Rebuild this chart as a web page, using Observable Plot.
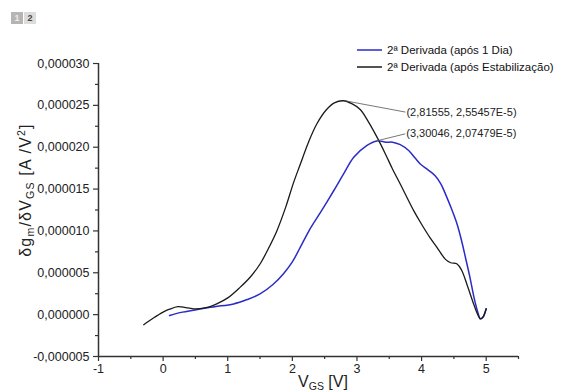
<!DOCTYPE html>
<html><head><meta charset="utf-8">
<script src="https://cdn.jsdelivr.net/npm/d3@7"></script>
<script src="https://cdn.jsdelivr.net/npm/@observablehq/plot@0.6"></script>
<style>
body{margin:0;background:#fff;font-family:"Liberation Sans",Arial,sans-serif;}
#wrap{position:relative;width:565px;height:392px;}
.layer{position:absolute;top:12px;width:12px;height:12px;font:bold 9px "Liberation Sans",Arial,sans-serif;text-align:center;line-height:12px;}
svg{display:block;}
</style></head><body>
<div id="wrap">
<div class="layer" style="left:11px;background:#b5b5b5;color:#ececec;">1</div>
<div class="layer" style="left:24px;background:#dcdcdc;color:#444;">2</div>
</div>
<script>
// Series names
const seriesNames = ["2ª Derivada (após 1 Dia)", "2ª Derivada (após Estabilização)"];
const seriesColors = ["#2b2bc8", "#1a1a1a"];

// Blue series: after 1 day (y in units of 1e-6 A/V²)
const blueX = [0.10, 0.30, 0.57, 0.80, 1.09, 1.30, 1.50, 1.70, 1.86, 2.00, 2.12, 2.27, 2.45, 2.64, 2.80, 2.95, 3.15, 3.31, 3.45, 3.55, 3.67, 3.80, 3.90, 3.98, 4.10, 4.21, 4.30, 4.37, 4.46, 4.55, 4.62, 4.68, 4.75, 4.81, 4.87, 4.91, 4.95, 5.00];
const blueY = [-0.1, 0.3, 0.68, 0.95, 1.28, 1.8, 2.47, 3.6, 4.86, 6.3, 8.0, 10.2, 12.4, 14.8, 16.9, 18.8, 20.2, 20.75, 20.6, 20.6, 20.3, 19.6, 18.7, 18.0, 17.3, 16.6, 15.6, 14.4, 12.7, 10.8, 8.8, 6.8, 4.4, 2.1, 0.3, -0.5, -0.3, 0.7];

// Black series: after stabilization (y in units of 1e-6 A/V²)
const blackX = [-0.30, -0.15, 0.00, 0.10, 0.23, 0.35, 0.52, 0.70, 0.83, 1.00, 1.19, 1.35, 1.50, 1.63, 1.76, 1.90, 2.02, 2.12, 2.25, 2.38, 2.53, 2.65, 2.79, 2.92, 3.05, 3.18, 3.31, 3.44, 3.55, 3.67, 3.78, 3.88, 4.00, 4.13, 4.25, 4.37, 4.45, 4.55, 4.62, 4.70, 4.80, 4.87, 4.91, 4.95, 5.00];
const blackY = [-1.2, -0.4, 0.3, 0.65, 0.95, 0.85, 0.68, 0.9, 1.28, 2.0, 3.26, 4.5, 6.05, 7.9, 10.0, 12.9, 15.8, 17.9, 20.6, 22.8, 24.5, 25.3, 25.55, 25.2, 24.5, 23.0, 21.2, 19.2, 17.4, 15.6, 13.9, 12.4, 10.8, 9.2, 7.9, 6.6, 6.2, 6.05, 5.3, 3.66, 1.4, 0.0, -0.5, -0.3, 0.7];

// Peak annotations
const peakX = [2.81555, 3.30046];
const peakY = [2.55457e-5, 2.07479e-5];
const peakLabels = ["(2,81555, 2,55457E-5)", "(3,30046, 2,07479E-5)"];

// Axis ticks
const xTicks = [-1, 0, 1, 2, 3, 4, 5];
const xMinor = [-0.5, 0.5, 1.5, 2.5, 3.5, 4.5, 5.5];
const yTicks = [-5e-6, 0, 5e-6, 1e-5, 1.5e-5, 2e-5, 2.5e-5, 3e-5];
const yMinor = [-2.5e-6, 2.5e-6, 7.5e-6, 1.25e-5, 1.75e-5, 2.25e-5, 2.75e-5];

const toRows = (xs, ys, s) => xs.map((x, i) => ({x, y: ys[i] * 1e-6, s}));
const blue = toRows(blueX, blueY, seriesNames[0]);
const black = toRows(blackX, blackY, seriesNames[1]);
const peaks = peakX.map((x, i) => ({x, y: peakY[i], label: peakLabels[i]}));
// label anchor offsets (data units) for leader lines
const labelOffX = [0.935, 0.447];
const labelOffY = [-1.35e-6, 0.85e-6];

const fmtY = d => d3.format(".6f")(d).replace(".", ",").replace("−", "-");
const fmtX = d => String(d).replace("−", "-");

const plot = Plot.plot({
  width: 565, height: 392,
  marginLeft: 98, marginRight: 47, marginTop: 63, marginBottom: 36,
  style: {fontFamily: "'Liberation Sans', Arial, sans-serif", fontSize: "12.5px", color: "#222", background: "white"},
  x: {domain: [-1, 5.5]},
  y: {domain: [-5e-6, 3e-5]},
  marks: [
    Plot.axisX({ticks: xMinor, tickSize: 3, tickFormat: () => "", label: null, strokeWidth: 1.2, stroke: "#333"}),
    Plot.axisX({ticks: xTicks, tickSize: 5, tickPadding: 3, tickFormat: fmtX, label: null, strokeWidth: 1.2, stroke: "#333"}),
    Plot.axisY({ticks: yMinor, tickSize: 3, tickFormat: () => "", label: null, strokeWidth: 1.2, stroke: "#333"}),
    Plot.axisY({ticks: yTicks, tickSize: 5, tickPadding: 4, tickFormat: fmtY, label: null, strokeWidth: 1.2, stroke: "#333"}),
    Plot.ruleX([-1], {stroke: "#333", strokeWidth: 1.5}),
    Plot.ruleY([-5e-6], {stroke: "#333", strokeWidth: 1.5}),
    Plot.line(blue, {x: "x", y: "y", stroke: seriesColors[0], strokeWidth: 1.5, curve: "catmull-rom"}),
    Plot.line(black, {x: "x", y: "y", stroke: seriesColors[1], strokeWidth: 1.3, curve: "catmull-rom"}),
    Plot.link(peaks, {x1: "x", y1: "y", x2: (d, i) => d.x + labelOffX[i], y2: (d, i) => d.y + labelOffY[i], stroke: "#555", strokeWidth: 0.8}),
    Plot.text(peaks, {x: (d, i) => d.x + labelOffX[i], y: (d, i) => d.y + labelOffY[i], text: "label", textAnchor: "start", dx: 1, fontSize: 11, fill: "#222"})
  ]
});

document.getElementById("wrap").appendChild(plot);
const svg = d3.select(plot);

// Axis titles
const xt = svg.append("text").attr("x", 323).attr("y", 387).attr("text-anchor", "middle")
  .attr("font-size", 16).attr("fill", "#222");
xt.append("tspan").text("V");
xt.append("tspan").attr("font-size", 10.5).attr("dy", 3).text("GS");
xt.append("tspan").attr("dy", -3).text(" [V]");

const yt = svg.append("text").attr("transform", "translate(31,190) rotate(-90)").attr("text-anchor", "middle")
  .attr("font-size", 16).attr("letter-spacing", 1.2).attr("fill", "#222");
yt.append("tspan").text("δg");
yt.append("tspan").attr("font-size", 10.5).attr("dy", 3).text("m");
yt.append("tspan").attr("dy", -3).text("/δV");
yt.append("tspan").attr("font-size", 10.5).attr("dy", 3).text("GS");
yt.append("tspan").attr("dy", -3).text(" [A /V");
yt.append("tspan").attr("font-size", 10.5).attr("dy", -6).text("2");
yt.append("tspan").attr("dy", 6).text("]");

// Legend
const lg = svg.append("g").attr("font-size", 11.5).attr("fill", "#111").attr("text-anchor", "start");
seriesNames.forEach((name, i) => {
  const yy = 50 + i * 17;
  lg.append("line").attr("x1", 357).attr("x2", 382).attr("y1", yy).attr("y2", yy)
    .attr("stroke", seriesColors[i]).attr("stroke-width", 1.5);
  lg.append("text").attr("x", 387).attr("y", yy).attr("dy", "0.35em").text(name);
});
</script>
</body></html>
